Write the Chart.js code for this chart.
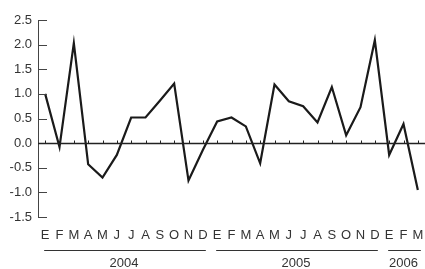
<!DOCTYPE html>
<html>
<head>
<meta charset="utf-8">
<script src="https://cdn.jsdelivr.net/npm/chart.js@4/dist/chart.umd.min.js"></script>
<style>
  html, body { margin: 0; padding: 0; background: #fff; }
  #wrap { width: 425px; height: 269px; position: relative; }
</style>
</head>
<body>
<div id="wrap"><canvas id="chart"></canvas></div>
<script>
var months = ["E","F","M","A","M","J","J","A","S","O","N","D",
              "E","F","M","A","M","J","J","A","S","O","N","D",
              "E","F","M"];
var values = [1.0, -0.08, 2.03, -0.43, -0.70, -0.24, 0.52, 0.52, 0.86, 1.21, -0.76, -0.14,
              0.44, 0.52, 0.34, -0.41, 1.19, 0.85, 0.75, 0.42, 1.14, 0.16, 0.73, 2.09,
              -0.24, 0.39, -0.95];
var years = ["2004", "2005", "2006"];
var yearStart = [0, 12, 24];
var yearEnd = [11, 23, 26];
var yTicks = [-1.5, -1.0, -0.5, 0.0, 0.5, 1.0, 1.5, 2.0, 2.5];

var FONT = '"Liberation Sans", Arial, sans-serif';
var TEXT = '#333';

var axesPlugin = {
    id: 'axesPlugin',
    afterDraw: function(chart) {
        var ctx = chart.ctx;
        var x = chart.scales.x, y = chart.scales.y;
        var left = chart.chartArea.left, right = chart.chartArea.right;
        ctx.save();
        // y axis line + inward ticks
        ctx.strokeStyle = '#444';
        ctx.lineWidth = 1;
        ctx.beginPath();
        ctx.moveTo(left + 0.5, y.getPixelForValue(2.5));
        ctx.lineTo(left + 0.5, y.getPixelForValue(-1.5));
        yTicks.forEach(function(t) {
            var py = Math.round(y.getPixelForValue(t)) + 0.5;
            ctx.moveTo(left, py);
            ctx.lineTo(left + 9, py);
        });
        ctx.stroke();
        // zero line with small ticks
        var zy = Math.round(y.getPixelForValue(0)) + 0.5;
        ctx.strokeStyle = '#222';
        ctx.lineWidth = 1.3;
        ctx.beginPath();
        ctx.moveTo(left, zy);
        ctx.lineTo(right, zy);
        ctx.stroke();
        ctx.lineWidth = 1;
        ctx.beginPath();
        for (var i = 0; i < months.length; i++) {
            var px = Math.round(x.getPixelForValue(i)) + 0.5;
            ctx.moveTo(px, zy);
            ctx.lineTo(px, zy - 3);
        }
        ctx.stroke();
        // year groups
        ctx.strokeStyle = '#333';
        ctx.fillStyle = TEXT;
        ctx.font = '13px ' + FONT;
        ctx.textAlign = 'center';
        ctx.textBaseline = 'middle';
        for (var j = 0; j < years.length; j++) {
            var x0 = x.getPixelForValue(yearStart[j]) - 1;
            var x1 = Math.min(x.getPixelForValue(yearEnd[j]) + 3, chart.width);
            ctx.beginPath();
            ctx.moveTo(x0, 250.5);
            ctx.lineTo(x1, 250.5);
            ctx.stroke();
            var cx = (x.getPixelForValue(yearStart[j]) + x.getPixelForValue(yearEnd[j])) / 2;
            ctx.fillText(years[j], cx, 263);
        }
        ctx.restore();
    }
};

new Chart(document.getElementById('chart'), {
    type: 'line',
    data: {
        labels: months,
        datasets: [{
            data: values,
            borderColor: '#1a1a1a',
            borderWidth: 2.2,
            pointRadius: 0,
            tension: 0,
            fill: false
        }]
    },
    options: {
        responsive: true,
        maintainAspectRatio: false,
        animation: false,
        layout: { padding: { top: 20, right: 0, bottom: 0, left: 0 } },
        plugins: { legend: { display: false }, tooltip: { enabled: false } },
        scales: {
            x: {
                offset: true,
                grid: { display: false, drawTicks: false },
                border: { display: false },
                ticks: {
                    autoSkip: false, maxRotation: 0, padding: 11,
                    color: TEXT, font: { family: FONT, size: 13 }
                },
                afterFit: function(s) { s.height = 52; s.paddingLeft = 0; s.paddingRight = 0; }
            },
            y: {
                min: -1.5, max: 2.5,
                grid: { display: false, drawTicks: false },
                border: { display: false },
                ticks: {
                    stepSize: 0.5, padding: 6, color: TEXT,
                    font: { family: FONT, size: 13 },
                    callback: function(v) { return v.toFixed(1); }
                },
                afterFit: function(s) { s.width = 38; s.paddingTop = 0; s.paddingBottom = 0; }
            }
        }
    },
    plugins: [axesPlugin]
});
</script>
</body>
</html>
